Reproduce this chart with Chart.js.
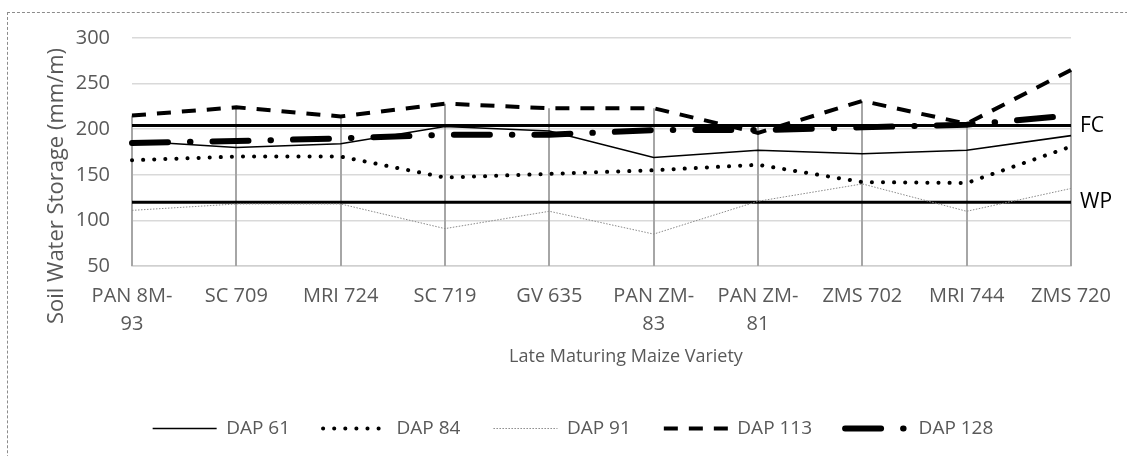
<!DOCTYPE html>
<html><head><meta charset="utf-8">
<script src="https://cdn.jsdelivr.net/npm/chart.js@4/dist/chart.umd.min.js"></script>
<style>
html,body{margin:0;padding:0;background:#fff;}
#wrap{position:relative;width:1127px;height:456px;overflow:hidden;}
#frame{position:absolute;left:7px;top:12px;width:1200px;height:500px;border-top:1px dashed #8c8c8c;border-left:1px dashed #8c8c8c;}
canvas{position:absolute;left:0;top:0;}
</style></head><body>
<div id="wrap"><div id="frame"></div><canvas id="c" width="1127" height="448"></canvas></div>
<script>
const categories = [['PAN 8M-','93'],'SC 709','MRI 724','SC 719','GV 635',['PAN ZM-','83'],['PAN ZM-','81'],'ZMS 702','MRI 744','ZMS 720'];
const dap61  = [187,180,184,203,198,169,177,173,177,193];
const dap84  = [166,170,170,147,151,155,161,142,141,181];
const dap91  = [111,118,118,91,110,85,121,140,110,135];
const dap113 = [215,224,214,228,223,223,196,231,206,265];
const dap128 = [185,187,190,194,194,199,199,202,205,215];
const fieldCapacity = [204,204,204,204,204,204,204,204,204,204];
const wiltingPoint  = [120,120,120,120,120,120,120,120,120,120];
const yMin = 50, yMax = 300, yStep = 50;

const FONT = 'Open Sans';

const extras = {
  id:'extras',
  afterLayout(chart){
    const lg = chart.legend;
    if (lg) { lg.left += 10; lg.right += 10; }
  },
  beforeDatasetsDraw(chart){
    const {ctx, scales:{x,y}} = chart;
    ctx.save();
    ctx.strokeStyle = '#a6a6a6';
    ctx.lineWidth = 2;
    for (let i = 0; i < categories.length; i++) {
      let m = -Infinity;
      chart.data.datasets.forEach(d => { if (d.data[i] > m) m = d.data[i]; });
      const px = Math.round(x.getPixelForValue(i));
      ctx.beginPath();
      ctx.moveTo(px, y.getPixelForValue(m));
      ctx.lineTo(px, y.getPixelForValue(yMin));
      ctx.stroke();
    }
    ctx.restore();
  },
  afterDraw(chart){
    const {ctx, chartArea, scales:{y}} = chart;
    ctx.save();
    ctx.fillStyle = '#000';
    ctx.font = '21px "' + FONT + '"';
    ctx.textAlign = 'left';
    ctx.textBaseline = 'middle';
    ctx.fillText('FC', chartArea.right + 9, y.getPixelForValue(fieldCapacity[0]));
    ctx.fillText('WP', chartArea.right + 9, y.getPixelForValue(wiltingPoint[0]));
    ctx.fillStyle = '#595959';
    ctx.textAlign = 'center';
    ctx.font = '18px "' + FONT + '"';
    ctx.fillText('Late Maturing Maize Variety', 626, 357);
    ctx.restore();
    ctx.save();
    ctx.fillStyle = '#595959';
    ctx.font = '22px "' + FONT + '"';
    ctx.textAlign = 'center';
    ctx.textBaseline = 'alphabetic';
    ctx.translate(63, 186);
    ctx.rotate(-Math.PI/2);
    ctx.fillText('Soil Water Storage (mm/m)', 0, 0);
    ctx.restore();
  }
};

const base = {pointRadius:0, pointHoverRadius:0, tension:0, fill:false, pointStyle:'line'};

new Chart(document.getElementById('c'), {
  type:'line',
  data:{
    labels: categories,
    datasets:[
      {...base, label:'DAP 61', data:dap61, borderColor:'#000', borderWidth:1.6},
      {...base, label:'DAP 84', data:dap84, borderColor:'#000', borderWidth:4, borderDash:[0.1,11], borderCapStyle:'round'},
      {...base, label:'DAP 91', data:dap91, borderColor:'#8a8a8a', borderWidth:1, borderDash:[1.5,1.5]},
      {...base, label:'DAP 113', data:dap113, borderColor:'#000', borderWidth:4, borderDash:[14,11]},
      {...base, label:'DAP 128', data:dap128, borderColor:'#000', borderWidth:6, borderDash:[36,22,0.5,22], borderCapStyle:'round'},
      {...base, label:'FC', data:fieldCapacity, borderColor:'#000', borderWidth:3},
      {...base, label:'WP', data:wiltingPoint, borderColor:'#000', borderWidth:3}
    ]
  },
  options:{
    responsive:false,
    animation:false,
    devicePixelRatio:1,
    layout:{padding:{left:55,right:56,top:38,bottom:0}},
    plugins:{
      tooltip:{enabled:false},
      legend:{
        position:'bottom',
        labels:{
          usePointStyle:true, pointStyle:'line', pointStyleWidth:64,
          color:'#595959', font:{family:FONT, size:19}, padding:33,
          generateLabels(chart){
            const items = Chart.defaults.plugins.legend.labels.generateLabels(chart);
            return items.filter(it => it.text.startsWith('DAP')).map(it => {
              const ds = chart.data.datasets[it.datasetIndex];
              it.lineDash = ds.borderDash || [];
              it.lineWidth = ds.borderWidth;
              it.lineCap = ds.borderCapStyle || 'butt';
              it.strokeStyle = ds.borderColor;
              return it;
            });
          }
        }
      }
    },
    scales:{
      x:{
        offset:false,
        grid:{display:false, drawTicks:false},
        border:{display:true, color:'#d0d0d0', width:1.5},
        ticks:{color:'#595959', font:{family:FONT, size:20, lineHeight:1.4}, padding:16, maxRotation:0, autoSkip:false},
        afterFit(s){ s.height = 120; }
      },
      y:{
        min:yMin, max:yMax,
        grid:{color:'#d9d9d9', lineWidth:1.5, drawTicks:false},
        border:{display:false},
        ticks:{stepSize:yStep, color:'#595959', font:{family:FONT, size:20}, padding:22},
        afterFit(s){ s.width = 77; }
      }
    }
  },
  plugins:[extras]
});
</script>
</body></html>
